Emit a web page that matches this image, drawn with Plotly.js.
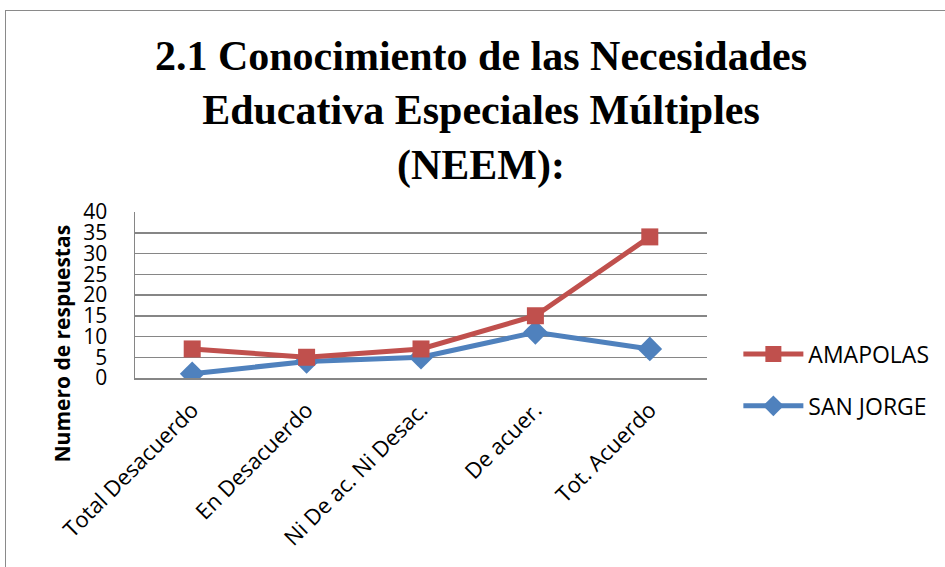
<!DOCTYPE html>
<html>
<head>
<meta charset="utf-8">
<script src="https://cdn.plot.ly/plotly-3.0.1.min.js"></script>
<style>
html,body{margin:0;padding:0;background:#fff;}
#wrap{position:relative;width:945px;height:567px;overflow:hidden;}
#chart{width:945px;height:567px;}
#frame{position:absolute;left:5px;top:10px;width:980px;height:600px;border:1.5px solid #8a8a8a;pointer-events:none;}
</style>
</head>
<body>
<div id="wrap"><div id="chart"></div><div id="frame"></div></div>
<script>
const categories = ["Total Desacuerdo", "En Desacuerdo", "Ni De ac. Ni Desac.", "De acuer.", "Tot. Acuerdo"];
const amapolas = [7, 5, 7, 15, 34];
const sanJorge = [1, 4, 5, 11, 7];
const yTicks = [0, 5, 10, 15, 20, 25, 30, 35, 40];
const yTitle = "Numero de respuestas";

const traces = [
  {
    x: categories, y: sanJorge, name: "SAN JORGE", type: "scatter", mode: "lines+markers",
    legendgroup: "b", legendrank: 2,
    line: {color: "#4F81BD", width: 5},
    marker: {symbol: "diamond", size: 19, color: "#4F81BD"}
  },
  {
    x: categories, y: amapolas, name: "AMAPOLAS", type: "scatter", mode: "lines+markers",
    legendgroup: "a", legendrank: 1,
    line: {color: "#C0504D", width: 5},
    marker: {symbol: "square", size: 17, color: "#C0504D"}
  }
];

const layout = {
  width: 945, height: 567,
  paper_bgcolor: "#fff", plot_bgcolor: "#fff",
  margin: {l: 135, r: 237, t: 212, b: 189},
  title: {
    text: "2.1 Conocimiento de las Necesidades<br>Educativa Especiales Múltiples<br>(NEEM):",
    font: {family: "Liberation Serif, Times New Roman, serif", size: 42, color: "#000", weight: "bold"},
    x: 0.509, xanchor: "center", y: 0.877, yanchor: "top"
  },
  xaxis: {
    type: "category", range: [-0.5, 4.5],
    tickangle: -45,
    tickfont: {family: "Open Sans, sans-serif", size: 22, color: "#000"},
    showgrid: false, showline: true, linecolor: "#868686", linewidth: 1.5,
    ticks: "outside", ticklen: 9, tickcolor: "rgba(0,0,0,0)",
    zeroline: false
  },
  yaxis: {
    range: [0, 40], tickvals: yTicks,
    tickfont: {family: "Open Sans, sans-serif", size: 21, color: "#000"},
    showgrid: true, gridcolor: "#868686", gridwidth: 1.5,
    showline: true, linecolor: "#868686", linewidth: 1.5,
    ticks: "outside", ticklen: 22, tickcolor: "rgba(0,0,0,0)",
    zeroline: false
  },
  annotations: [{
    text: yTitle, textangle: -90, showarrow: false,
    xref: "paper", yref: "paper", x: -0.127, y: 0.21, xanchor: "center", yanchor: "middle",
    font: {family: "Open Sans, sans-serif", size: 21, color: "#000", weight: "bold"}
  }],
  legend: {
    x: 1.053, y: -0.012, xanchor: "left", yanchor: "middle",
    traceorder: "grouped",
    font: {family: "Open Sans, sans-serif", size: 23, color: "#000"},
    itemwidth: 60, tracegroupgap: 19
  },
  showlegend: true
};

Plotly.newPlot("chart", traces, layout, {displayModeBar: false, staticPlot: true});
</script>
</body>
</html>
